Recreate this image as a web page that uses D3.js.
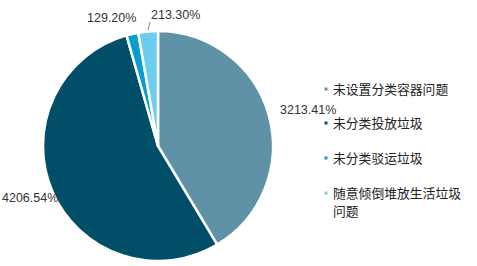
<!DOCTYPE html>
<html><head><meta charset="utf-8">
<script src="https://cdn.jsdelivr.net/npm/d3@7"></script>
<style>body{margin:0;background:#fff}svg{display:block}</style>
</head><body>
<svg id="c" width="477" height="266"></svg>
<script>
const categories = ["未设置分类容器问题","未分类投放垃圾","未分类驳运垃圾","随意倾倒堆放生活垃圾问题"];
const values = [3213.41, 4206.54, 129.20, 213.30];
const valueLabels = ["3213.41%","4206.54%","129.20%","213.30%"];
const colors = ["#5f92a6","#004e68","#0b9ccf","#6ccdf0"];

const svg = d3.select("#c");
const cx = 158, cy = 146, r = 115;
const pie = d3.pie().sort(null).value(d => d)(values);
const arc = d3.arc().innerRadius(0).outerRadius(r);
const g = svg.append("g").attr("transform", `translate(${cx},${cy})`);
g.selectAll("path").data(pie).enter().append("path")
  .attr("d", arc).attr("fill", (d,i) => colors[i])
  .attr("stroke", "#fff").attr("stroke-width", 2.5).attr("stroke-linejoin","round");

// labels
const labelPos = [
  {x: 280, y: 114, anchor: "start"},
  {x: 2, y: 202, anchor: "start"},
  {x: 87, y: 22, anchor: "start"},
  {x: 151, y: 19, anchor: "start"}
];
const fontLat = "Arial, 'Liberation Sans', sans-serif";
pie.forEach((d,i) => {
  svg.append("text").attr("x", labelPos[i].x).attr("y", labelPos[i].y)
    .attr("font-family", fontLat).attr("font-size", 12.5).attr("fill", "#333")
    .text(valueLabels[i]);
});
// leader line for small slice
const a3 = (pie[3].startAngle + pie[3].endAngle)/2;
const p0 = [cx + Math.sin(a3)*(r+1), cy - Math.cos(a3)*(r+1)];
svg.append("path").attr("d", `M${p0[0]},${p0[1]} L${p0[0]+2},${22}`)
  .attr("stroke", "#888").attr("fill","none").attr("stroke-width",1);

// legend
const legendY = [89, 123, 158, 193];
const lg = svg.append("g");
categories.forEach((c,i) => {
  lg.append("rect").attr("x", 324.5).attr("y", legendY[i]-1.5).attr("width", 3).attr("height", 3).attr("fill", colors[i]);
  const t = lg.append("text").attr("x", 333).attr("y", legendY[i]+4.5)
    .attr("font-family", "'Noto Sans CJK SC', sans-serif").attr("font-size", 12.8).attr("fill", "#222");
  if (c.length > 10) {
    t.append("tspan").attr("x", 333).text(c.slice(0,10));
    t.append("tspan").attr("x", 333).attr("dy", 18).text(c.slice(10));
  } else t.text(c);
});
</script>
</body></html>
